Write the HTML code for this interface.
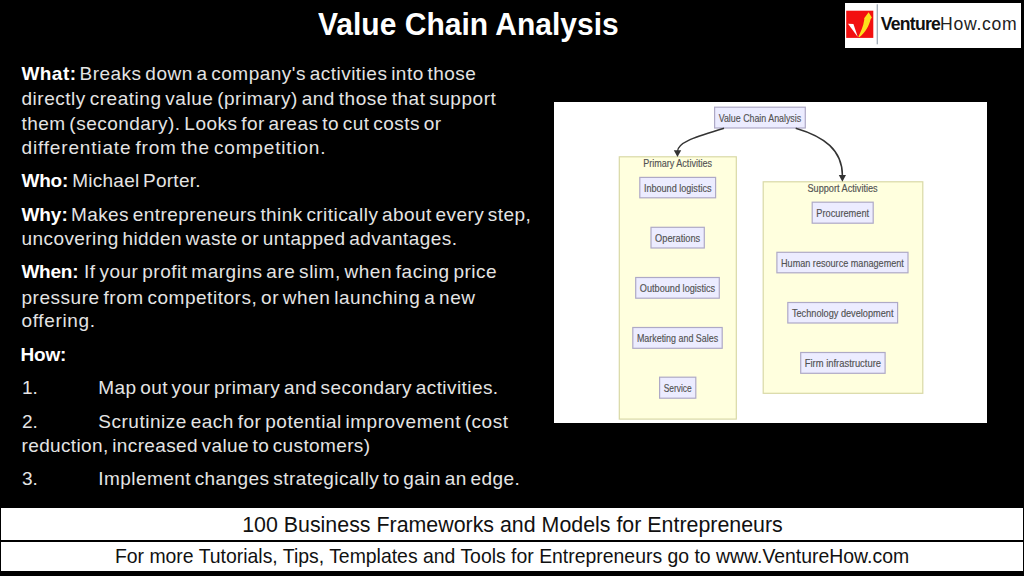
<!DOCTYPE html>
<html><head><meta charset="utf-8"><style>
html,body{margin:0;padding:0}
body{width:1024px;height:576px;background:#000;position:relative;overflow:hidden;font-family:"Liberation Sans",sans-serif}
.t{position:absolute;line-height:0;white-space:pre;color:#e4e4e4;font-size:19.0px}
.b{font-weight:bold;color:#fff}
.title{position:absolute;left:318px;top:24.6px;line-height:0;white-space:pre;color:#fff;font-weight:bold;font-size:30px;transform:scaleY(1.035);transform-origin:0 10.4px}
.band{position:absolute;left:1px;width:1022px;background:#fff}
.bt{position:absolute;line-height:0;white-space:pre;color:#111}
</style></head><body>
<div class="title">Value Chain Analysis</div>
<div style="position:absolute;left:845px;top:2.5px;width:176px;height:45px;background:#fff"></div>
<svg style="position:absolute;left:0;top:0" width="1024" height="60" viewBox="0 0 1024 60">
<rect x="846.2" y="10.7" width="27.1" height="27.2" fill="#f21010"/>
<path d="M848,23.8 L853.4,24.1 L857.8,36.9 Z" fill="#fff"/>
<path d="M858.3,36.9 C860.8,32 863.2,27 864.3,19.6 L864.2,18.2 L868.6,12.2 L871.9,17.6 L870.6,19.2 C869,26 865.2,32.5 859.6,36.9 Z" fill="#fde21c"/>
<rect x="876.7" y="4.3" width="1.1" height="40" fill="#8c9aa8"/>
</svg>
<div style="position:absolute;left:880.8px;top:23.9px;line-height:0;white-space:pre;font-size:17.6px;color:#111"><b style="letter-spacing:-0.75px">Venture</b><span style="color:#222;letter-spacing:0.7px">How.com</span></div>

<div class="t b" style="left:21.4px;top:73.92px;letter-spacing:0.467px">What:</div>
<div class="t" style="left:79.5px;top:73.92px;letter-spacing:0.487px;word-spacing:-2.00px">Breaks down a company&#x27;s activities into those</div>
<div class="t" style="left:21.5px;top:98.92px;letter-spacing:0.525px;word-spacing:-2.00px">directly creating value (primary) and those that support</div>
<div class="t" style="left:21.5px;top:123.92px;letter-spacing:0.471px;word-spacing:-2.00px">them (secondary). Looks for areas to cut costs or</div>
<div class="t" style="left:21.5px;top:147.92px;letter-spacing:0.836px;word-spacing:-2.00px">differentiate from the competition.</div>
<div class="t b" style="left:21.4px;top:180.92px;letter-spacing:-0.171px">Who:</div>
<div class="t" style="left:72.2px;top:180.92px;letter-spacing:0.258px;word-spacing:-2.00px">Michael Porter.</div>
<div class="t b" style="left:21.4px;top:214.92px;letter-spacing:-0.034px">Why:</div>
<div class="t" style="left:70.9px;top:214.92px;letter-spacing:0.435px;word-spacing:-2.00px">Makes entrepreneurs think critically about every step,</div>
<div class="t" style="left:21.5px;top:238.92px;letter-spacing:0.430px;word-spacing:-2.00px">uncovering hidden waste or untapped advantages.</div>
<div class="t b" style="left:21.4px;top:271.92px;letter-spacing:-0.229px">When:</div>
<div class="t" style="left:84.0px;top:271.92px;letter-spacing:0.516px;word-spacing:-2.00px">If your profit margins are slim, when facing price</div>
<div class="t" style="left:21.5px;top:297.92px;letter-spacing:0.531px;word-spacing:-2.00px">pressure from competitors, or when launching a new</div>
<div class="t" style="left:21.5px;top:320.92px;letter-spacing:0.643px;word-spacing:-2.00px">offering.</div>
<div class="t b" style="left:20.6px;top:354.92px;letter-spacing:-0.209px">How:</div>
<div class="t" style="left:22.0px;top:387.92px">1.</div>
<div class="t" style="left:98.3px;top:387.92px;letter-spacing:0.421px;word-spacing:-2.00px">Map out your primary and secondary activities.</div>
<div class="t" style="left:22.0px;top:421.92px">2.</div>
<div class="t" style="left:98.3px;top:421.92px;letter-spacing:0.515px;word-spacing:-2.00px">Scrutinize each for potential improvement (cost</div>
<div class="t" style="left:21.5px;top:445.92px;letter-spacing:0.368px;word-spacing:-2.00px">reduction, increased value to customers)</div>
<div class="t" style="left:22.0px;top:478.92px">3.</div>
<div class="t" style="left:98.3px;top:478.92px;letter-spacing:0.436px;word-spacing:-2.00px">Implement changes strategically to gain an edge.</div>
<svg style="position:absolute;left:0;top:0" width="1024" height="576" viewBox="0 0 1024 576">
<rect x="554" y="102" width="433" height="321" fill="#fff"/>
<g fill="#ffffde" stroke="#d9d9a6" stroke-width="1.2">
<rect x="619.3" y="156.8" width="117" height="262.3"/>
<rect x="763.2" y="181.8" width="159.6" height="211.5"/>
</g>
<g fill="#ececff" stroke="#aea9c6" stroke-width="1.2">
<rect x="714.6" y="107.2" width="90.7" height="20.8"/>
<rect x="639.8" y="177.4" width="75.8" height="20.4"/>
<rect x="651.0" y="227.3" width="53.3" height="20.7"/>
<rect x="635.7" y="277.5" width="83.6" height="20.7"/>
<rect x="632.8" y="327.5" width="89.4" height="20.8"/>
<rect x="659.6" y="377.2" width="36.2" height="21.0"/>
<rect x="812.2" y="202.2" width="61.0" height="21.0"/>
<rect x="776.9" y="252.3" width="131.1" height="20.5"/>
<rect x="787.8" y="302.5" width="109.8" height="20.5"/>
<rect x="800.7" y="352.5" width="84.4" height="20.8"/>
</g>
<g fill="none" stroke="#333" stroke-width="1.5">
<path d="M724,128.3 C696,137 677.5,142 677.5,151.5"/>
<path d="M795.7,128.2 C824,136.5 842.4,150 842.4,175.5"/>
</g>
<g fill="#333">
<path d="M673.8,150.2 L681.2,150.2 L677.5,157 Z"/>
<path d="M838.8,175 L846,175 L842.4,181.7 Z"/>
</g>
<g font-family="Liberation Sans" font-size="10.2" fill="#525252" stroke="#525252" stroke-width="0.15">
<text x="718.7" y="121.7" textLength="82.5" lengthAdjust="spacingAndGlyphs">Value Chain Analysis</text>
<text x="643.9" y="191.7" textLength="67.6" lengthAdjust="spacingAndGlyphs">Inbound logistics</text>
<text x="655.1" y="241.7" textLength="45.1" lengthAdjust="spacingAndGlyphs">Operations</text>
<text x="639.8" y="291.9" textLength="75.4" lengthAdjust="spacingAndGlyphs">Outbound logistics</text>
<text x="636.9" y="341.9" textLength="81.2" lengthAdjust="spacingAndGlyphs">Marketing and Sales</text>
<text x="663.7" y="391.6" textLength="28.0" lengthAdjust="spacingAndGlyphs">Service</text>
<text x="816.3" y="216.6" textLength="52.8" lengthAdjust="spacingAndGlyphs">Procurement</text>
<text x="781.0" y="266.9" textLength="122.9" lengthAdjust="spacingAndGlyphs">Human resource management</text>
<text x="791.9" y="316.9" textLength="101.6" lengthAdjust="spacingAndGlyphs">Technology development</text>
<text x="804.8" y="366.9" textLength="76.2" lengthAdjust="spacingAndGlyphs">Firm infrastructure</text>
<text x="643.2" y="167.1" textLength="68.8" lengthAdjust="spacingAndGlyphs">Primary Activities</text>
<text x="807.5" y="191.8" textLength="70.2" lengthAdjust="spacingAndGlyphs">Support Activities</text>
</g></svg>
<div class="band" style="top:508px;height:32px"></div>
<div class="band" style="top:542px;height:29px"></div>
<div class="bt" style="left:242.2px;top:524.59px;font-size:21.39px">100 Business Frameworks and Models for Entrepreneurs</div>
<div class="bt" style="left:114.9px;top:556.07px;font-size:19.42px">For more Tutorials, Tips, Templates and Tools for Entrepreneurs go to www.VentureHow.com</div>
</body></html>
